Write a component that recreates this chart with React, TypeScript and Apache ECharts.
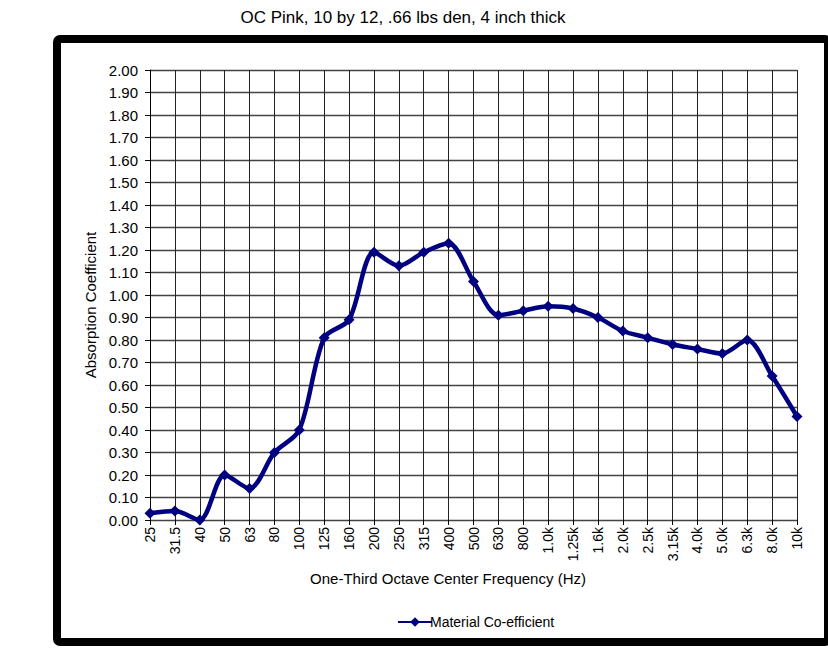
import React, { useEffect, useRef } from "react";
import * as echarts from "echarts";

const title = "OC Pink, 10 by 12, .66 lbs den, 4 inch thick";
const categories = ["25", "31.5", "40", "50", "63", "80", "100", "125", "160", "200", "250", "315", "400", "500", "630", "800", "1.0k", "1.25k", "1.6k", "2.0k", "2.5k", "3.15k", "4.0k", "5.0k", "6.3k", "8.0k", "10k"];
const coefficients = [0.03, 0.04, 0.0, 0.2, 0.14, 0.3, 0.4, 0.81, 0.89, 1.19, 1.13, 1.19, 1.23, 1.06, 0.91, 0.93, 0.95, 0.94, 0.9, 0.84, 0.81, 0.78, 0.76, 0.74, 0.8, 0.64, 0.46];
const seriesName = "Material Co-efficient";
const xName = "One-Third Octave Center Frequency (Hz)";
const yName = "Absorption Coefficient";

const FONT = "'Liberation Sans', Arial, sans-serif";
const NAVY = "#000080";

export default function App() {
  const ref = useRef<HTMLDivElement>(null);
  useEffect(() => {
    if (!ref.current) return;
    const chart = echarts.init(ref.current, null, { renderer: "svg" });
    chart.setOption({
      animation: false,
      backgroundColor: "#ffffff",
      textStyle: { fontFamily: FONT },
      title: {
        text: title,
        left: 398,
        top: 4,
        textAlign: "center",
        textStyle: { fontFamily: FONT, fontSize: 17, fontWeight: "normal", color: "#000" },
      },
      grid: { left: 150, right: 31, top: 70, bottom: 132 },
      legend: {
        show: true,
        left: 392,
        top: 610,
        itemWidth: 34,
        itemHeight: 12,
        itemGap: 0,
        data: [seriesName],
        textStyle: { fontFamily: FONT, fontSize: 14, color: "#000", padding: [0, 0, 0, -7] },
      },
      xAxis: {
        type: "category",
        data: categories,
        boundaryGap: false,
        axisLine: { show: true, lineStyle: { color: "#444", width: 1 } },
        axisTick: { show: true, length: 5, lineStyle: { color: "#000" } },
        axisLabel: { rotate: 90, fontSize: 14, color: "#000", fontFamily: FONT, margin: 7, interval: 0 },
        splitLine: { show: true, lineStyle: { color: "#222", width: 1 } },
      },
      yAxis: {
        type: "value",
        min: 0,
        max: 2,
        interval: 0.1,
        axisLine: { show: true, lineStyle: { color: "#000", width: 1 } },
        axisTick: { show: true, length: 5, lineStyle: { color: "#000" } },
        axisLabel: {
          fontSize: 15,
          color: "#000",
          fontFamily: FONT,
          margin: 12,
          formatter: (v: number) => v.toFixed(2),
        },
        splitLine: { show: true, lineStyle: { color: "#444", width: 1.3 } },
      },
      graphic: [
        {
          type: "rect",
          shape: { x: 57, y: 39, width: 771, height: 603, r: 3 },
          style: { fill: "none", stroke: "#000", lineWidth: 8 },
          silent: true,
          z: 100,
        },
        {
          type: "text",
          x: 448,
          y: 578,
          style: { text: xName, font: `15px ${FONT}`, fill: "#000", align: "center", verticalAlign: "middle" },
        },
        {
          type: "text",
          x: 90,
          y: 305,
          rotation: Math.PI / 2,
          style: { text: yName, font: `15px ${FONT}`, fill: "#000", align: "center", verticalAlign: "middle" },
        },
      ],
      series: [
        {
          name: seriesName,
          type: "line",
          data: coefficients,
          smooth: 0.3,
          symbol: "diamond",
          symbolSize: 11,
          lineStyle: { color: NAVY, width: 4.5 },
          itemStyle: { color: NAVY },
          z: 5,
        },
      ],
    });
    return () => chart.dispose();
  }, []);
  return <div ref={ref} style={{ width: 828, height: 652, position: "absolute", left: 0, top: 0 }} />;
}
